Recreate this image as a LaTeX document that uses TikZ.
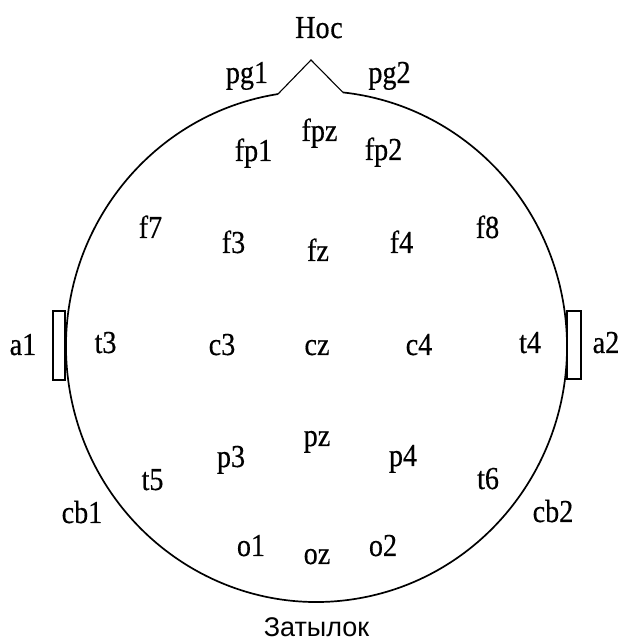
\documentclass[tikz,border=0pt]{standalone}
\usepackage{fontspec}
\setmainfont{Liberation Serif}[FakeStretch=0.88,FakeBold=0.4]
\setsansfont{Liberation Sans}
\begin{document}
\begin{tikzpicture}[x=1pt,y=1pt]
  \useasboundingbox (0,0) rectangle (622,643);

  \tikzset{
    lbl/.style={anchor=base, inner sep=0pt, font=\fontsize{32}{34}\selectfont},
    ear/.style={draw, fill=white, line width=1.4pt}
  }

  % Head outline with the nose (slightly taller than wide)
  \coordinate (C) at (316.5,296.5);
  \coordinate (nosetip) at (311,583);
  \path (C) ++(98.84:250.5 and 255.5) coordinate (nl);
  \path (C) ++(83.93:250.5 and 255.5) coordinate (nr);
  \draw[line width=1.7pt] (nl) arc[start angle=98.84, end angle=443.93, x radius=250.5, y radius=255.5];
  \draw[line width=1.1pt, line join=miter] (nl) -- (nosetip) -- (nr);

  % Ears
  \draw[ear] (53,263) rectangle (65,332);
  \draw[ear] (567,264) rectangle (581,332);

  % Electrode labels
  \foreach \name/\x/\y in {pg1/247/560, pg2/389.5/560,
                           fp1/253.5/482, fpz/319.5/502, fp2/383.5/483,
                           f7/150.5/405, f3/233.5/390, fz/318/382, f4/401.5/390, f8/487.5/405,
                           a1/23/288, t3/105.5/290, c3/222/288, cz/317/288, c4/419/288, t4/530/290, a2/606/290,
                           p3/231/176, pz/317/197, p4/403/177,
                           t5/152.5/153, t6/488/154,
                           cb1/82/120, cb2/553/121,
                           o1/251/87, oz/317/79, o2/383/87} {
    \node[lbl] (\name) at (\x,\y) {\name};
  }

  \node[lbl] (nos) at (319,605) {Нос};
  \node[lbl, font=\sffamily\fontsize{27}{30}\selectfont] (zatylok) at (316.5,6) {Затылок};

\end{tikzpicture}
\end{document}
